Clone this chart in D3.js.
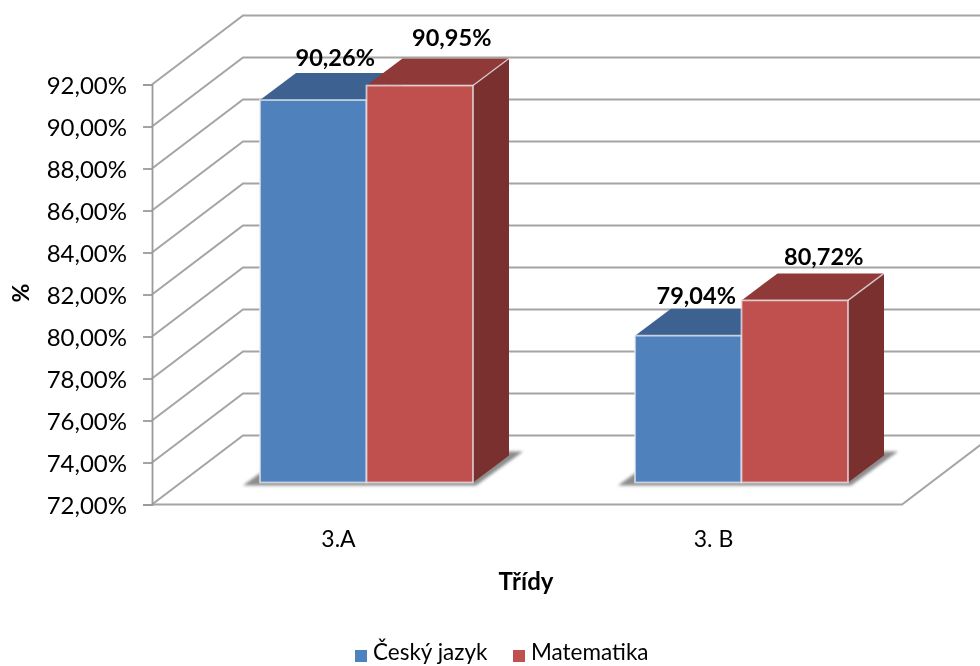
<!DOCTYPE html>
<html><head><meta charset="utf-8">
<script src="https://cdn.jsdelivr.net/npm/d3@7"></script>
<style>
html,body{margin:0;padding:0;background:#fff;overflow:hidden}
svg{display:block;filter:blur(.45px)}
text{font-family:Lato,"Open Sans",sans-serif;fill:#000}
</style></head><body>
<svg id="c" width="980" height="666"></svg>
<script>
const categories = ["3.A", "3. B"];
const seriesNames = ["Český jazyk", "Matematika"];
const cesky = [90.26, 79.04];
const matematika = [90.95, 80.72];
const tickValues = [72,74,76,78,80,82,84,86,88,90,92];
const labelShift = [[22,-33],[32,-39],[8,-31],[29,-34]];
const colors = {front:["#4f81bd","#c0504d"], top:["#3d6291","#8f3a38"], side:["#38557a","#7a302e"]};

const svg = d3.select("#c");
const defs = svg.append("defs");
defs.append("filter").attr("id","shadow").attr("x","-10%").attr("y","-20%").attr("width","120%").attr("height","140%")
  .append("feGaussianBlur").attr("stdDeviation",1.6);
defs.append("clipPath").attr("id","frame").append("rect").attr("width",980).attr("height",666);

const y = d3.scaleLinear().domain([72,92]).range([504.5,84.5]);
const x = d3.scaleBand().domain(categories).range([152,902]);
const pair = d3.scaleBand().domain([0,1]).range([-106.5,106.5]);
const wall = {dx:91, dy:-69};
const barPos = {dx:27, dy:-22};
const barDepth = {dx:36, dy:-27};
const pts = a => a.map(p=>p.join(",")).join(" ");

// walls and floor grid
const grid = svg.append("g").attr("clip-path","url(#frame)").append("g").attr("fill","none");
const gridColor = "#a4a4a4";
grid.selectAll("polyline.g").data(tickValues).join("polyline").attr("class","g")
  .attr("points",d=>pts([[152,y(d)],[152+wall.dx,y(d)+wall.dy],[990,y(d)+wall.dy]]))
  .attr("stroke",gridColor).attr("stroke-width",2);
grid.append("polyline")
  .attr("points",pts([[152,y(72)],[902,y(72)],[902+wall.dx,y(72)+wall.dy]]))
  .attr("stroke",gridColor).attr("stroke-width",2);

// y axis
const axis = svg.append("g").attr("transform","translate(152,0)")
  .call(d3.axisLeft(y).tickValues(tickValues).tickSize(9).tickPadding(16)
    .tickFormat(d=>d3.format(".2f")(d).replace(".",",")+"%"));
axis.selectAll("path,line").attr("stroke","#9a9a9a").attr("stroke-width",1.8);
axis.selectAll("text").attr("font-size",24).attr("font-family","Lato").attr("dy","0.36em").attr("fill","#000");

// floor shadows
const shadows = svg.append("g").attr("filter","url(#shadow)");
categories.forEach((c,i)=>{
  const cx = x(c)+x.bandwidth()/2+barPos.dx;
  const l = cx+pair(0), r = cx+pair(1)+pair.bandwidth(), b = y(72)+barPos.dy;
  shadows.append("polygon").attr("fill","#8c8c8c")
    .attr("points",pts([[l-17,b+3],[r+3,b+3],[r+50,b-31],[l+30,b-31]]));
});

// bars
const rows = categories.flatMap((c,i)=>[
  {c,s:0,v:cesky[i]},{c,s:1,v:matematika[i]}
]);
svg.append("g").selectAll("g").data(rows).join("g").each(function(d){
  const g = d3.select(this);
  const cx = x(d.c)+x.bandwidth()/2+barPos.dx;
  const l = cx+pair(d.s), r = l+pair.bandwidth();
  const b = y(72)+barPos.dy, t = y(d.v)+barPos.dy+1;
  const ddx = barDepth.dx, ddy = barDepth.dy;
  const edge = "rgba(235,235,240,.75)";
  g.append("polygon").attr("points",pts([[r,t],[r+ddx,t+ddy],[r+ddx,b+ddy],[r,b]]))
    .attr("fill",colors.side[d.s]);
  g.append("polygon").attr("points",pts([[l,t],[l+ddx,t+ddy],[r+ddx,t+ddy],[r,t]]))
    .attr("fill",colors.top[d.s]);
  g.append("rect").attr("x",l).attr("y",t).attr("width",r-l).attr("height",b-t)
    .attr("fill",colors.front[d.s]).attr("stroke",edge).attr("stroke-width",1.8);
  g.append("line").attr("x1",r).attr("y1",t).attr("x2",r+ddx).attr("y2",t+ddy)
    .attr("stroke",edge).attr("stroke-width",1.4);
});

// value labels
rows.forEach((d,i)=>{
  const cx = x(d.c)+x.bandwidth()/2+barPos.dx+pair(d.s)+pair.bandwidth()/2;
  svg.append("text").attr("x",cx+labelShift[i][0]).attr("y",y(d.v)+barPos.dy+labelShift[i][1])
    .attr("text-anchor","middle").attr("font-size",23.5).attr("font-weight",700)
    .text(d3.format(".2f")(d.v).replace(".",",")+"%");
});

// category labels
svg.append("g").selectAll("text").data(categories).join("text")
  .attr("x",d=>x(d)+x.bandwidth()/2-1).attr("y",547).attr("text-anchor","middle")
  .attr("font-size",23).text(d=>d);

// axis titles
svg.append("text").attr("transform","translate(29,293) rotate(-90)").attr("text-anchor","middle")
  .attr("font-size",23).attr("font-weight",700).text("%");
svg.append("text").attr("x",526).attr("y",590).attr("text-anchor","middle")
  .attr("font-size",24).attr("font-weight",700).text("Třídy");

// legend
const legendX = d3.scaleOrdinal().domain(seriesNames).range([355,513]);
const lg = svg.append("g").selectAll("g").data(seriesNames).join("g");
lg.append("rect").attr("x",d=>legendX(d)).attr("y",650).attr("width",12).attr("height",12)
  .attr("fill",(d,i)=>colors.front[i]);
lg.append("text").attr("x",d=>legendX(d)+18).attr("y",660).attr("font-size",22.5).text(d=>d);
</script>
</body></html>
